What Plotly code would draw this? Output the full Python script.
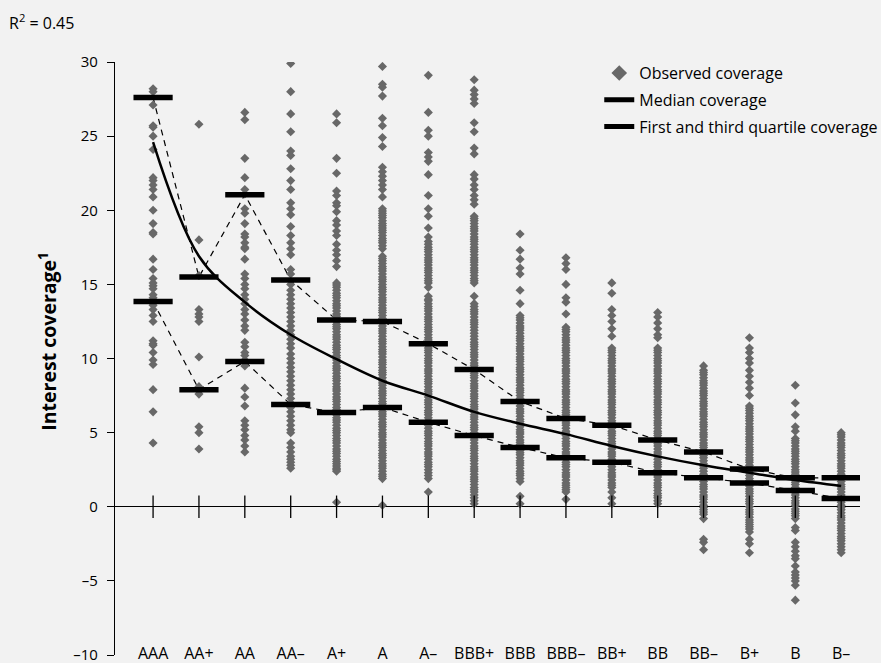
import plotly.graph_objects as go

categories = ["AAA", "AA+", "AA", "AA–", "A+", "A", "A–", "BBB+", "BBB", "BBB–",
              "BB+", "BB", "BB–", "B+", "B", "B–"]

median_cov = [24.6, 16.9, 13.8, 11.6, 9.95, 8.5, 7.5, 6.4, 5.6, 4.9,
              4.1, 3.4, 2.8, 2.3, 1.8, 1.4]
q3_cov = [27.6, 15.5, 21.05, 15.3, 12.6, 12.5, 11.0, 9.25, 7.1, 5.95,
          5.5, 4.5, 3.7, 2.55, 1.95, 1.95]
q1_cov = [13.85, 7.9, 9.8, 6.9, 6.35, 6.7, 5.7, 4.8, 4.0, 3.3,
          3.0, 2.3, 1.95, 1.6, 1.1, 0.55]

obs_AAA = [28.2, 28.0, 27.1, 25.7, 25.6, 25.0, 24.1, 22.2, 22.0, 21.7, 21.4, 20.9, 20.0,
           19.1, 18.5, 18.4, 16.7, 16.0, 15.4, 15.1, 14.9, 14.7, 14.3, 14.1, 13.6, 13.3,
           12.9, 12.5, 11.2, 11.0, 10.9, 10.4, 9.9, 9.6, 7.9, 6.4, 4.3]
obs_AAp = [25.8, 18.0, 15.6, 13.3, 13.0, 12.8, 12.5, 10.1, 8.1, 7.8, 7.6, 5.4, 5.0, 3.9]
obs_AA = [26.6, 26.1, 23.5, 22.2, 21.4, 21.1, 20.1, 19.8, 19.1, 18.4, 18.2, 17.8, 17.5,
          17.4, 16.7, 15.7, 15.4, 15.0, 14.7, 14.3, 14.0, 13.7, 13.3, 13.0, 12.6, 12.2,
          11.9, 11.1, 10.8, 10.4, 10.2, 9.9, 9.5, 8.0, 7.4, 6.8, 5.8, 5.5, 5.2, 4.8, 4.5,
          4.1, 3.7]
obs_AAm = [29.9, 28.0, 26.5, 25.3, 24.0, 23.7, 22.8, 22.0, 21.4, 20.5, 20.1, 19.7, 18.9,
           18.3, 17.8, 17.4, 17.0, 16.0, 15.7, 15.0, 14.6, 14.3, 14.0, 13.7, 13.4, 13.1,
           12.8, 12.5, 12.2, 11.9, 11.6, 11.3, 11.0, 10.7, 10.3, 10.0, 9.7, 9.4, 9.1, 8.8,
           8.5, 8.2, 7.9, 7.6, 7.3, 7.0, 6.7, 6.4, 6.1, 5.8, 5.5, 5.2, 5.0, 4.3, 4.0, 3.7,
           3.4, 3.2, 3.0, 2.8, 2.6]
obs_Ap = [26.5, 25.9, 23.5, 22.5, 21.3, 21.0, 20.5, 20.3, 19.9, 19.3, 19.0, 18.6, 18.3,
          17.7, 17.3, 17.0, 16.6, 16.2, 15.1, 14.8, 14.4, 14.1, 13.7, 13.4, 13.0, 12.7,
          12.3, 12.0, 11.6, 11.3, 10.9, 10.6, 10.2, 9.9, 9.5, 9.2, 8.8, 8.5, 8.1, 7.8, 7.4,
          7.1, 6.7, 6.4, 6.0, 5.7, 5.3, 5.0, 4.6, 4.3, 3.9, 3.6, 3.2, 2.9, 2.6, 2.4, 0.3,
          14.95, 14.6, 14.25, 13.9, 13.55, 13.2, 12.85, 12.5, 12.15, 11.8, 11.45, 11.1,
          10.75, 10.4, 10.05, 9.7, 9.35, 9.0, 8.65, 8.3, 7.95, 7.6, 7.25, 6.9, 6.55, 6.2,
          5.85, 5.5, 5.15, 4.8, 4.45, 4.1, 3.75, 3.4, 3.05, 2.75, 2.5]
obs_A = [29.7, 28.5, 28.3, 27.7, 26.2, 25.7, 24.9, 24.3, 22.9, 22.6, 22.3, 22.0, 21.7,
         21.4, 20.9, 20.1, 19.8, 19.5, 19.1, 18.8, 18.5, 18.1, 17.8, 17.4, 16.9, 16.6,
         16.2, 15.9, 15.5, 15.2, 14.8, 14.5, 14.1, 13.8, 13.4, 13.1, 12.7, 12.4, 12.0,
         11.7, 11.3, 11.0, 10.6, 10.3, 9.9, 9.6, 9.2, 8.9, 8.5, 8.2, 7.8, 7.5, 7.1, 6.8,
         6.4, 6.1, 5.7, 5.4, 5.0, 4.7, 4.3, 4.0, 3.6, 3.3, 2.9, 2.6, 2.2, 1.9, 0.1,
         16.75, 16.4, 16.05, 15.7, 15.35, 15.0, 14.65, 14.3, 13.95, 13.6, 13.25, 12.9,
         12.55, 12.2, 11.85, 11.5, 11.15, 10.8, 10.45, 10.1, 9.75, 9.4, 9.05, 8.7, 8.35,
         8.0, 7.65, 7.3, 6.95, 6.6, 6.25, 5.9, 5.55, 5.2, 4.85, 4.5, 4.15, 3.8, 3.45,
         3.1, 2.75, 2.4, 2.05, 19.95, 19.65, 19.3, 18.95, 18.65, 18.3, 17.95, 17.6]
obs_Am = [29.1, 26.6, 25.4, 25.0, 23.9, 23.6, 23.3, 22.4, 21.0, 20.1, 19.6, 18.8, 18.2,
          17.9, 17.5, 17.2, 16.8, 16.5, 16.1, 15.8, 15.4, 15.1, 14.8, 14.2, 13.9, 13.5,
          13.2, 12.8, 12.5, 12.1, 11.8, 11.4, 11.1, 10.7, 10.4, 10.0, 9.7, 9.3, 9.0, 8.6,
          8.3, 7.9, 7.6, 7.2, 6.9, 6.5, 6.2, 5.8, 5.5, 5.1, 4.8, 4.4, 4.1, 3.7, 3.4, 3.0,
          2.7, 2.3, 1.9, 1.0,
          14.0, 13.7, 13.35, 13.0, 12.65, 12.3, 11.95, 11.6, 11.25, 10.9, 10.55, 10.2,
          9.85, 9.5, 9.15, 8.8, 8.45, 8.1, 7.75, 7.4, 7.05, 6.7, 6.35, 6.0, 5.65, 5.3,
          4.95, 4.6, 4.25, 3.9, 3.55, 3.2, 2.85, 2.5, 2.1, 17.7, 17.35, 17.0, 16.65, 16.3,
          15.95, 15.6, 15.25]
obs_BBBp = [28.8, 28.1, 27.8, 27.5, 27.2, 25.9, 25.3, 24.2, 23.8, 22.4, 22.1, 21.7, 21.4,
            21.0, 20.7, 20.4, 19.6, 19.3, 18.9, 18.6, 18.2, 17.9, 17.5, 17.2, 16.8, 16.5,
            16.1, 15.8, 15.4, 15.1, 14.2, 13.7, 13.3, 13.0, 12.6, 12.3, 11.9, 11.5, 11.1,
            10.8, 10.4, 10.1, 9.7, 9.4, 9.0, 8.7, 8.3, 8.0, 7.6, 7.3, 6.9, 6.6, 6.2, 5.9,
            5.5, 5.2, 4.8, 4.5, 4.1, 3.8, 3.4, 3.1, 2.7, 2.4, 2.0, 1.7, 1.3, 1.0, 0.6, 0.2,
            11.3, 10.95, 10.6, 10.25, 9.9, 9.55, 9.2, 8.85, 8.5, 8.15, 7.8, 7.45, 7.1,
            6.75, 6.4, 6.05, 5.7, 5.35, 5.0, 4.65, 4.3, 3.95, 3.6, 3.25, 2.9, 2.55, 2.2,
            1.85, 1.5, 1.15, 0.8, 0.4, 19.45, 19.1, 18.75, 18.4, 18.05, 17.7, 17.35, 17.0,
            16.65, 16.3, 15.95, 15.6, 15.25, 13.5, 13.15, 12.8, 12.45, 12.1, 11.7]
obs_BBB = [18.4, 17.3, 16.7, 16.1, 15.7, 14.6, 13.7, 12.9, 12.6, 12.2, 11.9, 11.5, 11.2,
           10.8, 10.5, 10.1, 9.8, 9.4, 9.1, 8.7, 8.4, 8.0, 7.7, 7.3, 7.0, 6.6, 6.3, 5.9,
           5.6, 5.2, 4.9, 4.5, 4.2, 3.8, 3.5, 3.1, 2.8, 2.4, 2.1, 1.7, 0.7, 0.2,
           12.75, 12.4, 12.05, 11.7, 11.35, 11.0, 10.65, 10.3, 9.95, 9.6, 9.25, 8.9, 8.55,
           8.2, 7.85, 7.5, 7.15, 6.8, 6.45, 6.1, 5.75, 5.4, 5.05, 4.7, 4.35, 4.0, 3.65,
           3.3, 2.95, 2.6, 2.25, 1.9]
obs_BBBm = [16.8, 16.4, 16.0, 15.0, 14.1, 13.8, 13.0, 12.1, 11.8, 11.4, 11.1, 10.7, 10.4,
            10.0, 9.7, 9.3, 9.0, 8.6, 8.3, 7.9, 7.6, 7.2, 6.9, 6.5, 6.2, 5.8, 5.5, 5.1,
            4.8, 4.4, 4.1, 3.7, 3.4, 3.0, 2.7, 2.3, 2.0, 1.6, 1.3, 1.0, 0.5,
            11.95, 11.6, 11.25, 10.9, 10.55, 10.2, 9.85, 9.5, 9.15, 8.8, 8.45, 8.1, 7.75,
            7.4, 7.05, 6.7, 6.35, 6.0, 5.65, 5.3, 4.95, 4.6, 4.25, 3.9, 3.55, 3.2, 2.85,
            2.5, 2.15, 1.8, 1.45, 1.15]
obs_BBp = [15.1, 14.4, 13.3, 12.9, 12.5, 12.0, 11.5, 10.7, 10.4, 10.0, 9.7, 9.3, 9.0,
           8.6, 8.3, 7.9, 7.6, 7.2, 6.9, 6.5, 6.2, 5.8, 5.5, 5.1, 4.8, 4.4, 4.1, 3.7, 3.4,
           3.0, 2.7, 2.3, 2.0, 1.6, 1.3, 1.0, 0.6, 0.2,
           10.55, 10.2, 9.85, 9.5, 9.15, 8.8, 8.45, 8.1, 7.75, 7.4, 7.05, 6.7, 6.35, 6.0,
           5.65, 5.3, 4.95, 4.6, 4.25, 3.9, 3.55, 3.2, 2.85, 2.5, 2.15, 1.8, 1.45]
obs_BB = [13.1, 12.8, 12.4, 12.0, 11.6, 11.4, 10.7, 10.4, 10.0, 9.7, 9.3, 9.0, 8.6, 8.3,
          7.9, 7.6, 7.2, 6.9, 6.5, 6.2, 5.8, 5.5, 5.1, 4.8, 4.4, 4.1, 3.7, 3.4, 3.0, 2.7,
          2.3, 2.0, 1.6, 1.3, 0.9, 0.6, 0.2,
          10.55, 10.2, 9.85, 9.5, 9.15, 8.8, 8.45, 8.1, 7.75, 7.4, 7.05, 6.7, 6.35, 6.0,
          5.65, 5.3, 4.95, 4.6, 4.25, 3.9, 3.55, 3.2, 2.85, 2.5, 2.15, 1.8, 1.45, 1.1,
          0.75, 0.4]
obs_BBm = [9.5, 9.2, 8.9, 8.5, 8.2, 7.8, 7.5, 7.1, 6.8, 6.4, 6.1, 5.7, 5.4, 5.0, 4.7,
           4.3, 4.0, 3.6, 3.3, 2.9, 2.6, 2.2, 1.9, 1.5, 1.2, 0.8, 0.5, 0.1, -0.2, -0.5,
           -0.8, -2.2, -2.4, -2.9,
           9.05, 8.7, 8.35, 8.0, 7.65, 7.3, 6.95, 6.6, 6.25, 5.9, 5.55, 5.2, 4.85, 4.5,
           4.15, 3.8, 3.45, 3.1, 2.75, 2.4, 2.05, 1.7, 1.35, 1.0, 0.65, 0.3, -0.05, -0.35]
obs_Bp = [11.4, 10.7, 10.4, 10.0, 9.7, 9.2, 8.8, 8.4, 8.0, 7.5, 6.8, 6.5, 6.1, 5.8, 5.4,
          5.1, 4.7, 4.4, 4.0, 3.7, 3.3, 3.0, 2.6, 2.3, 1.9, 1.6, 1.2, 0.9, 0.5, 0.2, -0.2,
          -0.5, -0.9, -1.2, -1.5, -1.7, -2.2, -2.5, -3.1,
          6.65, 6.3, 5.95, 5.6, 5.25, 4.9, 4.55, 4.2, 3.85, 3.5, 3.15, 2.8, 2.45, 2.1,
          1.75, 1.4, 1.05, 0.7, 0.35, 0.0, -0.35, -0.7, -1.05, -1.35]
obs_B = [8.2, 7.0, 6.2, 5.4, 5.1, 4.6, 4.3, 3.9, 3.6, 3.2, 2.9, 2.5, 2.2, 1.8, 1.5, 1.1,
         0.8, 0.4, 0.1, -0.3, -0.6, -0.8, -1.4, -1.6, -2.4, -2.7, -3.0, -3.3, -3.5, -4.0,
         -4.4, -4.6, -4.8, -5.0, -5.3, -6.3,
         4.45, 4.1, 3.75, 3.4, 3.05, 2.7, 2.35, 2.0, 1.65, 1.3, 0.95, 0.6, 0.25, -0.15,
         -0.45]
obs_Bm = [5.0, 4.7, 4.3, 4.0, 3.6, 3.3, 2.9, 2.6, 2.2, 1.9, 1.5, 1.2, 0.8, 0.5, 0.1, -0.2,
          -0.6, -0.9, -1.3, -1.6, -2.0, -2.3, -2.7, -3.1,
          4.85, 4.5, 4.15, 3.8, 3.45, 3.1, 2.75, 2.4, 2.05, 1.7, 1.35, 1.0, 0.65, 0.3,
          -0.05, -0.4, -0.75, -1.1, -1.45, -1.8, -2.15, -2.5, -2.9]

observed = [obs_AAA, obs_AAp, obs_AA, obs_AAm, obs_Ap, obs_A, obs_Am, obs_BBBp, obs_BBB,
            obs_BBBm, obs_BBp, obs_BB, obs_BBm, obs_Bp, obs_B, obs_Bm]

y_ticks = [-10, -5, 0, 5, 10, 15, 20, 25, 30]
y_ticktext = ["–10", "–5", "0", "5", "10", "15", "20", "25", "30"]
axis_base = [0] * len(categories)
label_level = [-10] * len(categories)

FONT = "Open Sans, Noto Sans, sans-serif"
BG = "#f2f2f2"
GREY = "#686868"

obs_x, obs_y = [], []
for cat, vals in zip(categories, observed):
    obs_x += [cat] * len(vals)
    obs_y += vals

fig = go.Figure()

# dashed connectors for quartiles
for q in (q3_cov, q1_cov):
    fig.add_trace(go.Scatter(x=categories, y=q, mode="lines", showlegend=False,
                             line=dict(color="black", width=1.2, dash="6px,5px"),
                             hoverinfo="skip"))

fig.add_trace(go.Scatter(x=obs_x, y=obs_y, mode="markers", name="Observed coverage",
                         legendgroup="g1",
                         marker=dict(symbol="diamond", size=7, color=GREY)))

fig.add_trace(go.Scatter(x=categories, y=median_cov, mode="lines", name="Median coverage",
                         legendgroup="g2",
                         line=dict(color="black", width=2.5, shape="spline", smoothing=1.0)))

for q in (q3_cov, q1_cov):
    fig.add_trace(go.Scatter(x=categories, y=q, mode="markers", showlegend=False,
                             legendgroup="g3",
                             marker=dict(symbol="line-ew", size=28, color="black",
                                         line=dict(color="black", width=5.5))))
# legend entry for quartiles
fig.add_trace(go.Scatter(x=[None], y=[None], mode="lines",
                         name="First and third quartile coverage", legendgroup="g3",
                         line=dict(color="black", width=6)))

# axis tick marks crossing the zero line
fig.add_trace(go.Scatter(x=categories, y=axis_base, mode="markers", showlegend=False,
                         hoverinfo="skip", cliponaxis=False,
                         marker=dict(symbol="line-ns", size=16, color="black",
                                     line=dict(color="black", width=1.3))))

# category labels at the -10 level
fig.add_trace(go.Scatter(x=categories, y=label_level, mode="text", text=categories,
                         showlegend=False, hoverinfo="skip", cliponaxis=False,
                         textposition="middle center",
                         textfont=dict(family=FONT, size=16, color="black")))

fig.update_layout(
    width=881, height=663,
    margin=dict(l=115, r=21, t=62, b=8, autoexpand=False),
    paper_bgcolor=BG, plot_bgcolor=BG,
    font=dict(family=FONT, size=15, color="black"),
    showlegend=True,
    legend=dict(x=0.65, y=1.01, xanchor="left", yanchor="top", itemsizing="constant",
                bgcolor="rgba(0,0,0,0)", traceorder="grouped", tracegroupgap=3,
                font=dict(family=FONT, size=16, color="black")),
    xaxis=dict(type="category", categoryorder="array", categoryarray=categories,
               range=[-0.83, 15.41], showgrid=False, showline=False, zeroline=False,
               showticklabels=False, ticks="", automargin=False),
    yaxis=dict(range=[-10, 30], tickvals=y_ticks, ticktext=y_ticktext,
               showgrid=False, zeroline=True, zerolinecolor="black", zerolinewidth=1.3,
               showline=True, linecolor="black", linewidth=1.3,
               ticks="outside", ticklen=7, tickwidth=1.3, tickcolor="black",
               ticklabelstandoff=6, ticklabeloverflow="allow", automargin=False,
               tickfont=dict(family=FONT, size=15, color="black")),
    annotations=[
        dict(text="R<sup>2</sup> = 0.45", xref="paper", yref="paper",
             x=-0.145, y=1.067, xanchor="left", yanchor="middle", showarrow=False,
             font=dict(family=FONT, size=16, color="black")),
        dict(text="<b>Interest coverage<sup>1</sup></b>", xref="paper", yref="paper",
             x=-0.09, y=0.53, xanchor="center", yanchor="middle", textangle=-90,
             showarrow=False, font=dict(family=FONT, size=19.5, color="black")),
    ],
)

fig.write_html("out.html", config={"displayModeBar": False},
               post_script="document.body.style.margin='0';"
                           "document.body.style.background='#f2f2f2';")
